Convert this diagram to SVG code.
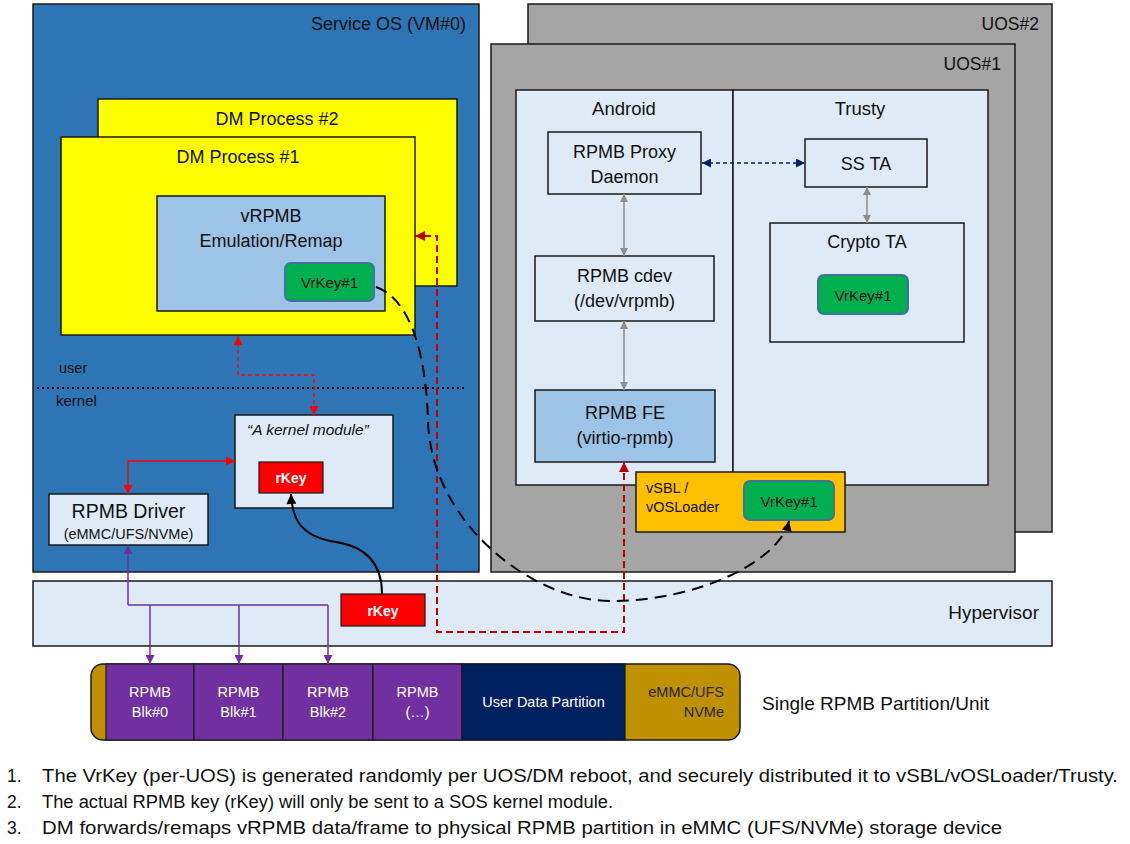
<svg xmlns="http://www.w3.org/2000/svg" width="1130" height="844" viewBox="0 0 1130 844">
<defs>
<style>
text { font-family: "Liberation Sans", Arial, sans-serif; fill: #111; }
.bx { stroke: #1a1a1a; stroke-width: 1.5; }
.sos { fill: #2E75B6; }
.yel { fill: #FFFF00; }
.lb { fill: #DEEBF7; }
.mb { fill: #9DC3E6; }
.gr { fill: #A5A5A5; }
.key { fill: #00B050; stroke: #41719C; stroke-width: 2; }
.rk { fill: #FF0000; stroke: #1a1a1a; stroke-width: 1.2; }
.blk { fill: #7030A0; stroke: #1a1a1a; stroke-width: 1.2; }
.t18 { font-size: 18px; }
.mid { text-anchor: middle; }
.end { text-anchor: end; }
.wt { fill: #ffffff; }
.rkt { fill: #ffffff; font-weight: bold; font-size: 14px; text-anchor: middle; }
.kt { font-size: 15px; text-anchor: middle; }
.ft { font-size: 17.5px; }
</style>
<marker id="aRed" viewBox="0 0 10 10" refX="10" refY="5" markerWidth="10" markerHeight="9" markerUnits="userSpaceOnUse" orient="auto-start-reverse"><path d="M0,0 L10,5 L0,10 z" fill="#FF0000"/></marker>
<marker id="aDRed" viewBox="0 0 10 10" refX="10" refY="5" markerWidth="11" markerHeight="10" markerUnits="userSpaceOnUse" orient="auto-start-reverse"><path d="M0,0 L10,5 L0,10 z" fill="#C00000"/></marker>
<marker id="aGray" viewBox="0 0 10 10" refX="10" refY="5" markerWidth="9" markerHeight="8" markerUnits="userSpaceOnUse" orient="auto-start-reverse"><path d="M0,0 L10,5 L0,10 z" fill="#8C8C8C"/></marker>
<marker id="aNavy" viewBox="0 0 10 10" refX="10" refY="5" markerWidth="9" markerHeight="9" markerUnits="userSpaceOnUse" orient="auto-start-reverse"><path d="M0,0 L10,5 L0,10 z" fill="#002060"/></marker>
<marker id="aPur" viewBox="0 0 10 10" refX="10" refY="5" markerWidth="9" markerHeight="9" markerUnits="userSpaceOnUse" orient="auto-start-reverse"><path d="M0,0 L10,5 L0,10 z" fill="#7030A0"/></marker>
<marker id="aBlk" viewBox="0 0 10 10" refX="10" refY="5" markerWidth="11" markerHeight="10" markerUnits="userSpaceOnUse" orient="auto-start-reverse"><path d="M0,0 L10,5 L0,10 z" fill="#000000"/></marker>
</defs>

<rect width="1130" height="844" fill="#ffffff"/>

<g id="service-os">
<rect class="bx sos" x="33" y="4" width="446" height="568"/>
<text class="t18 end" x="466" y="30">Service OS (VM#0)</text>
<text x="59" y="373" style="font-size:14.5px">user</text>
<text x="56" y="406" style="font-size:15px">kernel</text>
<line x1="37" y1="388" x2="467" y2="388" stroke="#000" stroke-width="2" stroke-dasharray="2,3"/>
</g>

<g id="dm-process-2">
<rect class="bx yel" x="98" y="99" width="359" height="187"/>
<text class="t18 mid" x="277" y="125">DM Process #2</text>
</g>

<g id="dm-process-1">
<rect class="bx yel" x="61" y="137" width="354" height="198"/>
<text class="t18 mid" x="238" y="163">DM Process #1</text>
</g>

<g id="vrpmb">
<rect class="bx mb" x="157" y="196" width="228" height="115"/>
<text class="t18 mid" x="271" y="222">vRPMB</text>
<text class="t18 mid" x="271" y="247">Emulation/Remap</text>
</g>

<g id="vrkey-dm">
<rect class="key" x="285" y="263" width="89" height="38" rx="6"/>
<text class="kt" x="329.5" y="288">VrKey#1</text>
</g>

<g id="kernel-module">
<rect class="bx lb" x="235" y="415" width="158" height="93"/>
<text x="247" y="435" style="font-size:15.5px;font-style:italic">“A kernel module”</text>
</g>

<g id="rkey-kernel">
<rect class="rk" x="259" y="462" width="64" height="31"/>
<text class="rkt" x="291" y="483">rKey</text>
</g>

<g id="rpmb-driver">
<rect class="bx lb" x="49" y="494" width="159" height="51"/>
<text class="mid" x="128.5" y="518" style="font-size:19.5px">RPMB Driver</text>
<text class="mid" x="128.5" y="539" style="font-size:14.5px">(eMMC/UFS/NVMe)</text>
</g>

<g id="uos-2">
<rect class="bx gr" x="528" y="4" width="524" height="528"/>
<text class="end" x="1039" y="30" style="font-size:17.5px">UOS#2</text>
</g>

<g id="uos-1">
<rect class="bx gr" x="491" y="44" width="524" height="528"/>
<text class="end" x="1001" y="70" style="font-size:17.5px">UOS#1</text>
</g>

<g id="android">
<rect class="bx lb" x="516" y="90" width="217" height="395"/>
<text class="mid" x="624" y="115" style="font-size:18.5px">Android</text>
</g>

<g id="trusty">
<rect class="bx lb" x="733" y="90" width="255" height="395"/>
<text class="mid" x="860" y="115" style="font-size:18.5px">Trusty</text>
</g>

<g id="rpmb-proxy">
<rect class="bx lb" x="548" y="132" width="153" height="62"/>
<text class="t18 mid" x="624.5" y="158">RPMB Proxy</text>
<text class="t18 mid" x="624.5" y="183">Daemon</text>
</g>

<g id="ss-ta">
<rect class="bx lb" x="805" y="139" width="122" height="48"/>
<text class="t18 mid" x="866" y="170">SS TA</text>
</g>

<g id="rpmb-cdev">
<rect class="bx lb" x="535" y="256" width="179" height="65"/>
<text class="t18 mid" x="624.5" y="282">RPMB cdev</text>
<text class="t18 mid" x="624.5" y="307">(/dev/vrpmb)</text>
</g>

<g id="crypto-ta">
<rect class="bx lb" x="770" y="223" width="194" height="119"/>
<text class="t18 mid" x="867" y="248">Crypto TA</text>
</g>

<g id="vrkey-crypto">
<rect class="key" x="818" y="275" width="90" height="39" rx="6"/>
<text class="kt" x="863" y="301">VrKey#1</text>
</g>

<g id="rpmb-fe">
<rect class="bx mb" x="535" y="390" width="180" height="72"/>
<text class="t18 mid" x="625" y="419">RPMB FE</text>
<text class="t18 mid" x="625" y="444">(virtio-rpmb)</text>
</g>

<g id="vsbl">
<rect class="bx" fill="#FFC000" x="636" y="472" width="209" height="60"/>
<text x="646" y="493" style="font-size:14.5px">vSBL /</text>
<text x="646" y="512" style="font-size:14.5px">vOSLoader</text>
</g>

<g id="vrkey-vsbl">
<rect class="key" x="744" y="481" width="90" height="39" rx="6"/>
<text class="kt" x="789" y="507">VrKey#1</text>
</g>

<g id="hypervisor">
<rect class="bx lb" x="33" y="581" width="1019" height="65"/>
<text class="end" x="1039" y="619" style="font-size:19px">Hypervisor</text>
</g>

<g id="rkey-hyp">
<rect class="rk" x="341" y="594" width="84" height="32"/>
<text class="rkt" x="383" y="616">rKey</text>
</g>

<g id="partition">
<rect x="91" y="664" width="649" height="76" rx="12" fill="#BF9000" stroke="#1a1a1a" stroke-width="1.5"/>
<rect class="blk" x="106" y="664" width="88" height="76"/>
<rect class="blk" x="194" y="664" width="89" height="76"/>
<rect class="blk" x="283" y="664" width="90" height="76"/>
<rect class="blk" x="373" y="664" width="89" height="76"/>
<rect x="462" y="664" width="163" height="76" fill="#002060" stroke="#1a1a1a" stroke-width="1.2"/>
<g style="font-size:14.5px">
<text class="mid wt" x="150" y="697">RPMB</text><text class="mid wt" x="150" y="717">Blk#0</text>
<text class="mid wt" x="238.5" y="697">RPMB</text><text class="mid wt" x="238.5" y="717">Blk#1</text>
<text class="mid wt" x="328" y="697">RPMB</text><text class="mid wt" x="328" y="717">Blk#2</text>
<text class="mid wt" x="417.5" y="697">RPMB</text><text class="mid wt" x="417.5" y="717">(…)</text>
<text class="mid wt" x="543.5" y="707">User Data Partition</text>
<text class="end" x="724" y="697" style="fill:#262626">eMMC/UFS</text>
<text class="end" x="724" y="717" style="fill:#262626">NVMe</text>
</g>
<text x="762" y="710" style="font-size:19px">Single RPMB Partition/Unit</text>
</g>

<g id="connectors" fill="none">
<path d="M702,163 L805,163" stroke="#002060" stroke-width="1.5" stroke-dasharray="4,3" marker-start="url(#aNavy)" marker-end="url(#aNavy)"/>
<path d="M624,194 L624,256" stroke="#8C8C8C" stroke-width="1.5" marker-start="url(#aGray)" marker-end="url(#aGray)"/>
<path d="M624,321 L624,390" stroke="#8C8C8C" stroke-width="1.5" marker-start="url(#aGray)" marker-end="url(#aGray)"/>
<path d="M867,187 L867,223" stroke="#8C8C8C" stroke-width="1.5" marker-start="url(#aGray)" marker-end="url(#aGray)"/>
<path d="M238,336 L238,375 L314,375 L314,415" stroke="#FF0000" stroke-width="1.3" stroke-dasharray="4,3" marker-start="url(#aRed)" marker-end="url(#aRed)"/>
<path d="M235,461 L128,461 L128,494" stroke="#FF0000" stroke-width="1.3" marker-start="url(#aRed)" marker-end="url(#aRed)"/>
<path d="M624,462 L624,632 L437,632 L437,236 L415,236" stroke="#C00000" stroke-width="2" stroke-dasharray="7,4" marker-start="url(#aDRed)" marker-end="url(#aDRed)"/>
<path d="M128,605 L128,545" stroke="#7030A0" stroke-width="1.5" marker-end="url(#aPur)"/>
<path d="M128,605 L328,605" stroke="#7030A0" stroke-width="1.5"/>
<path d="M150,605 L150,664" stroke="#7030A0" stroke-width="1.5" marker-end="url(#aPur)"/>
<path d="M239,605 L239,664" stroke="#7030A0" stroke-width="1.5" marker-end="url(#aPur)"/>
<path d="M328,605 L328,664" stroke="#7030A0" stroke-width="1.5" marker-end="url(#aPur)"/>
<path d="M376,287 C400,295 425,330 428,420 C430,520 530,601 611,601 C700,601 780,560 789,521" stroke="#000" stroke-width="2" stroke-dasharray="12,7" marker-end="url(#aBlk)"/>
<path d="M382,594 C382,560 362,546 336,542 C302,537 292,520 291,494" stroke="#000" stroke-width="2" marker-end="url(#aBlk)"/>
</g>

<g id="notes">
<text class="ft" x="7" y="782">1.</text>
<text class="ft" x="42" y="782" textLength="1076" lengthAdjust="spacingAndGlyphs">The VrKey (per-UOS) is generated randomly per UOS/DM reboot, and securely distributed it to vSBL/vOSLoader/Trusty.</text>
<text class="ft" x="7" y="808">2.</text>
<text class="ft" x="42" y="808" textLength="571" lengthAdjust="spacingAndGlyphs">The actual RPMB key (rKey) will only be sent to a SOS kernel module.</text>
<text class="ft" x="7" y="834">3.</text>
<text class="ft" x="42" y="834" textLength="960" lengthAdjust="spacingAndGlyphs">DM forwards/remaps vRPMB data/frame to physical RPMB partition in eMMC (UFS/NVMe) storage device</text>
</g>
</svg>
